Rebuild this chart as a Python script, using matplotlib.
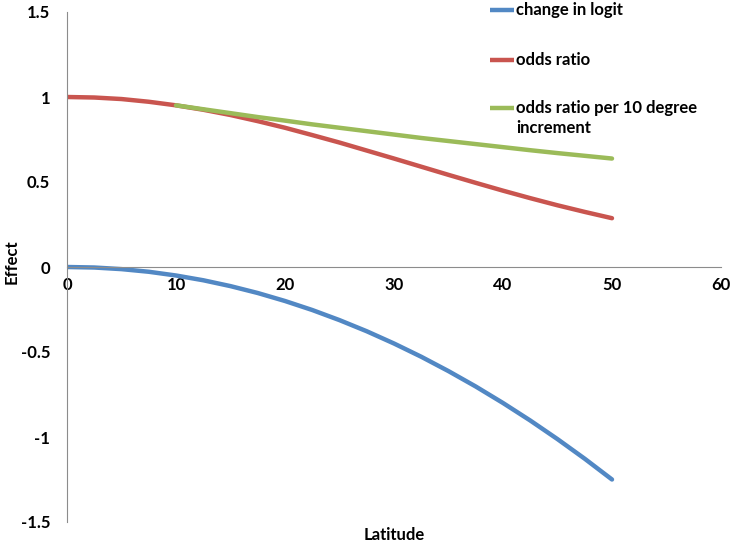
import matplotlib
matplotlib.use("Agg")
import matplotlib.pyplot as plt
from matplotlib.lines import Line2D

# Data
latitude = [0, 2.5, 5, 7.5, 10, 12.5, 15, 17.5, 20, 22.5, 25, 27.5, 30,
            32.5, 35, 37.5, 40, 42.5, 45, 47.5, 50]
change_in_logit = [0.0, -0.003, -0.0125, -0.028, -0.05, -0.078, -0.1125, -0.153,
                   -0.2, -0.253, -0.3125, -0.378, -0.45, -0.528, -0.6125, -0.703,
                   -0.8, -0.903, -1.0125, -1.128, -1.25]
odds_ratio = [1.0, 0.997, 0.988, 0.972, 0.951, 0.925, 0.894, 0.858, 0.819, 0.776,
              0.732, 0.685, 0.638, 0.590, 0.542, 0.495, 0.449, 0.405, 0.363,
              0.324, 0.287]
latitude_inc = [10, 12.5, 15, 17.5, 20, 22.5, 25, 27.5, 30, 32.5, 35, 37.5, 40,
                42.5, 45, 47.5, 50]
odds_ratio_per10 = [0.951, 0.928, 0.905, 0.882, 0.861, 0.839, 0.819, 0.799, 0.779,
                    0.759, 0.741, 0.723, 0.705, 0.687, 0.670, 0.654, 0.638]

labels = [["change in logit"], ["odds ratio"], ["odds ratio per 10 degree", "increment"]]
x_ticks = [0, 10, 20, 30, 40, 50, 60]
y_ticks = [-1.5, -1, -0.5, 0, 0.5, 1, 1.5]
y_tick_labels = ["-1.5", "-1", "-0.5", "0", "0.5", "1", "1.5"]

plt.rcParams['font.family'] = ['Lato', 'DejaVu Sans']
plt.rcParams['font.weight'] = 'bold'
FS = 12

W, H = 734, 545
fig = plt.figure(figsize=(W / 100, H / 100), dpi=100)
ax = fig.add_axes([67 / W, 1 - 522 / H, 654 / W, 510 / H])

colors = ['#5288C4', '#C9554F', '#9BBB59']
lw = 3.2
ax.plot(latitude, change_in_logit, color=colors[0], lw=lw, solid_capstyle='round')
ax.plot(latitude, odds_ratio, color=colors[1], lw=lw, solid_capstyle='round')
ax.plot(latitude_inc, odds_ratio_per10, color=colors[2], lw=lw, solid_capstyle='round')

ax.set_xlim(0, 60)
ax.set_ylim(-1.5, 1.5)
ax.set_xticks(x_ticks)
ax.set_xticklabels([str(t) for t in x_ticks])
ax.set_yticks(y_ticks)
ax.set_yticklabels(y_tick_labels)
ax.tick_params(axis='x', length=0, pad=7, labelsize=FS)
ax.tick_params(axis='y', length=0, pad=12, labelsize=FS)

ax.spines['top'].set_visible(False)
ax.spines['right'].set_visible(False)
ax.spines['bottom'].set_position(('data', 0))
for s in ('left', 'bottom'):
    ax.spines[s].set_color('#8C8C8C')
    ax.spines[s].set_linewidth(0.8)

fig.text(12 / W, 1 - 262 / H, 'Effect', rotation=90, ha='center', va='center', fontsize=FS, fontweight='bold')
fig.text(394 / W, 1 - 535 / H, 'Latitude', ha='center', va='center', fontsize=FS, fontweight='bold')

# Legend (Excel-style: handle aligned with first text line)
row_y = [10, 60, 108]
line_gap = 20
for lab, col, yy in zip(labels, colors, row_y):
    fig.add_artist(Line2D([490 / W, 514 / W], [1 - yy / H, 1 - yy / H],
                          transform=fig.transFigure, color=col, lw=lw, solid_capstyle='butt'))
    for k, t in enumerate(lab):
        fig.text(516 / W, 1 - (yy + k * line_gap) / H, t, ha='left', va='center',
                 fontsize=FS, fontweight='bold')

fig.savefig('out.png', dpi=100)
